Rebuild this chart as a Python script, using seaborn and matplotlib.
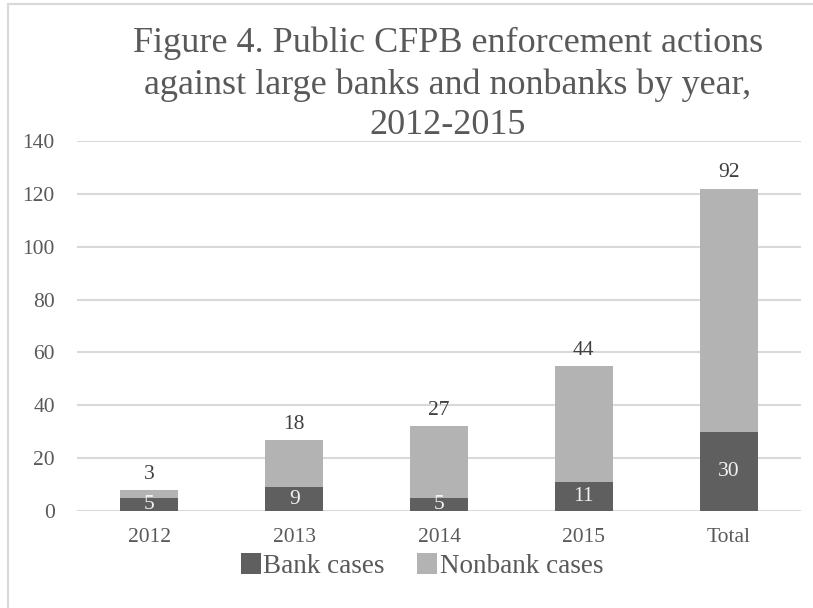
import matplotlib
matplotlib.use("Agg")
import matplotlib.pyplot as plt
import seaborn as sns
import pandas as pd
from matplotlib.patches import Patch
from matplotlib.lines import Line2D

categories = ["2012", "2013", "2014", "2015", "Total"]
bank_cases = [5, 9, 5, 11, 30]
nonbank_cases = [3, 18, 27, 44, 92]
y_ticks = [0, 20, 40, 60, 80, 100, 120, 140]

totals = [b + n for b, n in zip(bank_cases, nonbank_cases)]
df = pd.DataFrame({"cat": categories, "bank": bank_cases,
                   "nonbank": nonbank_cases, "total": totals})

sns.set_theme(style="white")
plt.rcParams["font.family"] = ["Liberation Serif", "DejaVu Serif"]

DARK = "#5f5f5f"
LIGHT = "#b3b3b3"
TXT = "#595959"
W, H = 813, 608

fig = plt.figure(figsize=(8.13, 6.08), dpi=100)
ax = fig.add_axes([77 / W, 1 - 511 / H, 724 / W, 370 / H])

sns.barplot(data=df, x="cat", y="total", color=LIGHT, width=0.4,
            saturation=1, linewidth=0, edgecolor="none", ax=ax, zorder=2)
sns.barplot(data=df, x="cat", y="bank", color=DARK, width=0.4,
            saturation=1, linewidth=0, edgecolor="none", ax=ax, zorder=3)

ax.set_ylim(0, 140)
ax.set_yticks(y_ticks)
ax.set_xlim(-0.5, len(categories) - 0.5)
ax.set_xlabel("")
ax.set_ylabel("")
ax.grid(axis="y", color="#d9d9d9", linewidth=1.5, zorder=0)
ax.set_axisbelow(True)
for s in ax.spines.values():
    s.set_visible(False)
ax.tick_params(axis="both", length=0, labelsize=15.5, labelcolor=TXT)
ax.tick_params(axis="x", pad=12)
ax.tick_params(axis="y", pad=16)

for i, (b, n, t) in enumerate(zip(bank_cases, nonbank_cases, totals)):
    ax.text(i, b / 2, str(b), ha="center", va="center", fontsize=15.5,
            color="#f2f2f2", zorder=5)
    ax.annotate(str(n), (i, t), xytext=(0, 8), textcoords="offset points",
                ha="center", va="baseline", fontsize=15.5, color="#404040")

fig.text(448 / W, 1 - 27 / H,
         "Figure 4. Public CFPB enforcement actions\nagainst large banks and nonbanks by year,\n2012-2015",
         ha="center", va="top", fontsize=26, color=TXT, linespacing=1.3)

handles = [Patch(facecolor=DARK, edgecolor="none", label="Bank cases"),
           Patch(facecolor=LIGHT, edgecolor="none", label="Nonbank cases")]
leg = fig.legend(handles=handles, loc="center", bbox_to_anchor=(422 / W, 1 - 566 / H),
                 ncol=2, frameon=False, fontsize=19.5, handlelength=0.74,
                 handleheight=0.78, handletextpad=0.1, columnspacing=1.2,
                 borderpad=0, borderaxespad=0)
for t in leg.get_texts():
    t.set_color(TXT)

# outer chart border (left and top edges visible)
fig.add_artist(Line2D([8 / W, 8 / W], [0, 1 - 4 / H], transform=fig.transFigure,
                      color="#d9d9d9", linewidth=1.5))
fig.add_artist(Line2D([8 / W, 1], [1 - 4 / H, 1 - 4 / H], transform=fig.transFigure,
                      color="#d9d9d9", linewidth=1.5))

fig.savefig("out.png", dpi=100, facecolor="white")
